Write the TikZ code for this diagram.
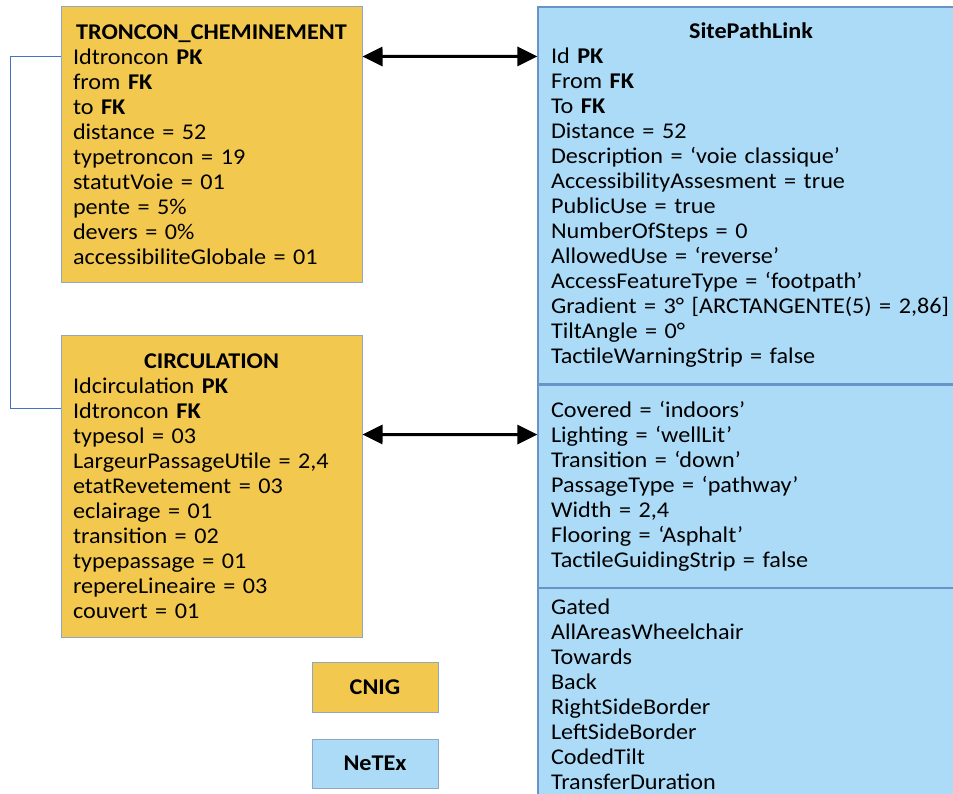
\documentclass[tikz,border=0pt]{standalone}
\usepackage{fontspec}
\setmainfont{Carlito}[FakeStretch=1.075]
\usetikzlibrary{positioning,arrows.meta}

\definecolor{cnigfill}{RGB}{242,201,78}
\definecolor{netexfill}{RGB}{171,219,247}
\definecolor{boxline}{RGB}{143,167,192}
\definecolor{sepline}{RGB}{106,147,200}
\definecolor{linkline}{RGB}{68,114,196}

\newcommand{\boxtitle}[1]{\makebox[\linewidth]{\textbf{#1}}}

\begin{document}
\begin{tikzpicture}[x=1pt,y=-1pt]
\useasboundingbox (0,0) rectangle (953,794);
\clip (0,0) rectangle (953,794);
%% Draw tables and legend
  \begin{scope}[font=\fontsize{22.5}{25}\selectfont,
       >={Triangle[length=20pt,width=19pt]},
       cnig/.style={rectangle,draw=boxline,line width=1pt,fill=cnigfill,
          text width=277pt,inner xsep=12pt,inner ysep=0pt,align=left,minimum width=301pt},
       netex/.style={rectangle,draw=sepline,line width=1.2pt,fill=netexfill,
          text width=400pt,inner xsep=13pt,inner ysep=0pt,align=left,minimum width=426pt},
       legende/.style={rectangle,draw=boxline,line width=1pt,minimum width=126pt,
          inner sep=0pt,font=\fontsize{22.5}{25}\selectfont\bfseries},
       fleche/.style={<->,line width=3pt,black},
       lien/.style={draw=linkline,line width=1pt}]
   \node [cnig,minimum height=276pt] (troncon) at (211.5,145) {\boxtitle{TRONCON\_CHEMINEMENT}\\
      Idtroncon \textbf{PK}\\ from \textbf{FK}\\ to \textbf{FK}\\ distance = 52\\
      typetroncon = 19\\ statutVoie = 01\\ pente = 5\%\\ devers = 0\%\\
      accessibiliteGlobale = 01};
   \node [cnig,minimum height=302pt] (circ) [below=51pt of troncon] {\boxtitle{CIRCULATION}\\
      Idcirculation \textbf{PK}\\ Idtroncon \textbf{FK}\\ typesol = 03\\
      LargeurPassageUtile = 2,4\\ etatRevetement = 03\\ eclairage = 01\\
      transition = 02\\ typepassage = 01\\ repereLineaire = 03\\ couvert = 01};
   \node [netex,minimum height=377pt] (spl) at (751,195.5) {\boxtitle{SitePathLink}\\
      Id \textbf{PK}\\ From \textbf{FK}\\ To \textbf{FK}\\ Distance = 52\\
      Description = ‘voie classique’\\ AccessibilityAssesment = true\\
      PublicUse = true\\ NumberOfSteps = 0\\ AllowedUse = ‘reverse’\\
      AccessFeatureType = ‘footpath’\\ Gradient = 3° [ARCTANGENTE(5) = 2,86]\\
      TiltAngle = 0°\\ TactileWarningStrip = false};
   \node [netex,minimum height=202pt] (splmid) [below=0pt of spl] {Covered = ‘indoors’\\
      Lighting = ‘wellLit’\\ Transition = ‘down’\\ PassageType = ‘pathway’\\
      Width = 2,4\\ Flooring = ‘Asphalt’\\ TactileGuidingStrip = false};
   \node [netex,minimum height=211pt] (splbot) [below=0pt of splmid] {Gated\\
      AllAreasWheelchair\\ Towards\\ Back\\ RightSideBorder\\ LeftSideBorder\\
      CodedTilt\\ TransferDuration};
   %% legend
   \node [legende,fill=cnigfill,minimum height=50pt] (legcnig) at (375,687) {CNIG};
   \node [legende,fill=netexfill,minimum height=49pt] (legnetex) [below=26pt of legcnig] {NeTEx};
   %% correspondences
   \draw[fleche] ([yshift=-50pt]troncon.north east) -- ([yshift=-50pt]spl.north west);
   \draw[fleche] ([yshift=-100pt]circ.north east) -- ([yshift=-50pt]splmid.north west);
   \draw[lien] ([yshift=-50pt]troncon.north west) -- ++(-50,0) |- ([yshift=-74pt]circ.north west);
  \end{scope}
\end{tikzpicture}
\end{document}
